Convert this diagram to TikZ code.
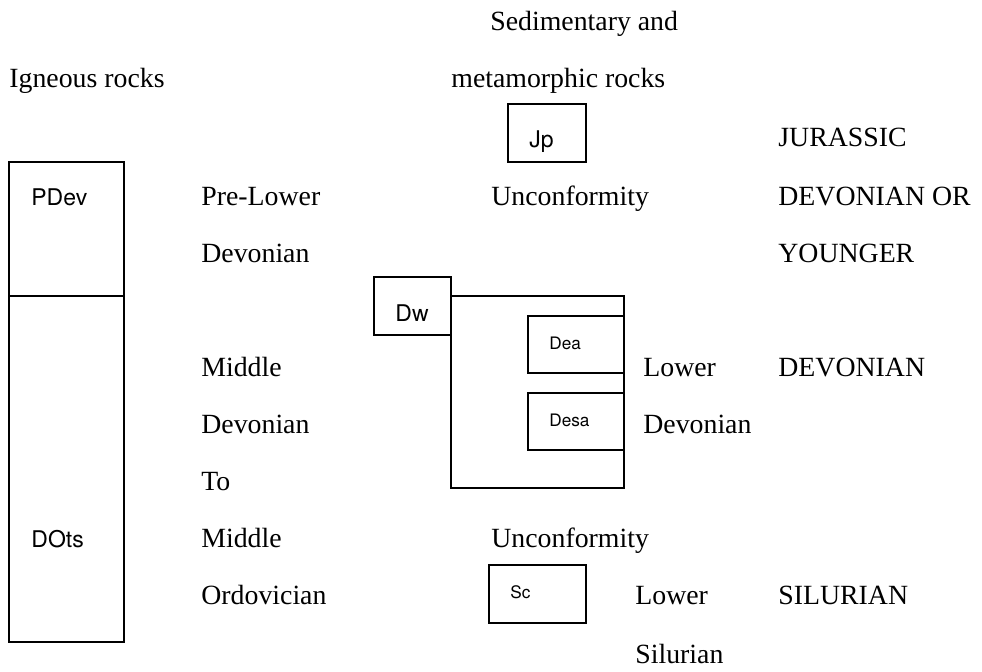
\documentclass[tikz,border=0pt]{standalone}
\usepackage{fontspec}
\setmainfont{Liberation Serif}
\setsansfont{TeX Gyre Heros}
\usetikzlibrary{fit}
\tikzset{
  unit/.style={rectangle, draw=black, line width=0.9pt, inner sep=0pt},
  txt/.style={anchor=base west, inner sep=0pt, font=\fontsize{13.9}{16}\selectfont},
  sym/.style={anchor=base west, inner sep=0pt, font=\sffamily\fontsize{11.5}{13}\selectfont},
  symsm/.style={anchor=base west, inner sep=0pt, font=\sffamily\fontsize{8.6}{10}\selectfont},
}
\begin{document}
\begin{tikzpicture}[x=0.5pt, y=-0.5pt]
  \useasboundingbox (0,0) rectangle (982,671);
  % headings
  \node[txt] (hdsed) at (490,30) {Sedimentary and};
  \node[txt] (hdmet) at (451,87) {metamorphic rocks};
  \node[txt] (hdign) at (9,87) {Igneous rocks};
  % igneous column
  \node[unit, fit={(9,162) (124,296)}] (pdev) {};
  \node[unit, fit={(9,296) (124,642)}] (dots) {};
  \node[sym] (pdevlab) at (31,205) {PDev};
  \node[sym] (dotslab) at (31,547) {DOts};
  \node[txt] (ig1) at (201,205) {Pre-Lower};
  \node[txt] (ig2) at (201,262) {Devonian};
  \node[txt] (ig3) at (201,376) {Middle};
  \node[txt] (ig4) at (201,433) {Devonian};
  \node[txt] (ig5) at (201,490) {To};
  \node[txt] (ig6) at (201,547) {Middle};
  \node[txt] (ig7) at (201,604) {Ordovician};
  % sedimentary column
  \node[unit, fit={(508,104) (586,162)}] (jp) {};
  \node[sym] (jplab) at (529,147) {Jp};
  \node[txt] (unc1) at (491,205) {Unconformity};
  \node[unit, fit={(451,296) (624,488)}] (dgrp) {};
  \node[unit, fill=white, fit={(374,277) (451,335)}] (dw) {};
  \node[sym] (dwlab) at (395,321) {Dw};
  \node[unit, fit={(528,316) (624,373)}] (dea) {};
  \node[symsm] (dealab) at (549,349) {Dea};
  \node[unit, fit={(528,393) (624,450)}] (desa) {};
  \node[symsm] (desalab) at (549,426) {Desa};
  \node[txt] (ld1) at (643,376) {Lower};
  \node[txt] (ld2) at (643,433) {Devonian};
  \node[txt] (unc2) at (491,547) {Unconformity};
  \node[unit, fit={(489,565) (586,623)}] (sc) {};
  \node[symsm] (sclab) at (510,598) {Sc};
  \node[txt] (ls1) at (635,604) {Lower};
  \node[txt] (ls2) at (635,663) {Silurian};
  % ages
  \node[txt] (age1) at (778,146) {JURASSIC};
  \node[txt] (age2) at (778,205) {DEVONIAN OR};
  \node[txt] (age3) at (778,262) {YOUNGER};
  \node[txt] (age4) at (778,376) {DEVONIAN};
  \node[txt] (age5) at (778,604) {SILURIAN};
\end{tikzpicture}
\end{document}
